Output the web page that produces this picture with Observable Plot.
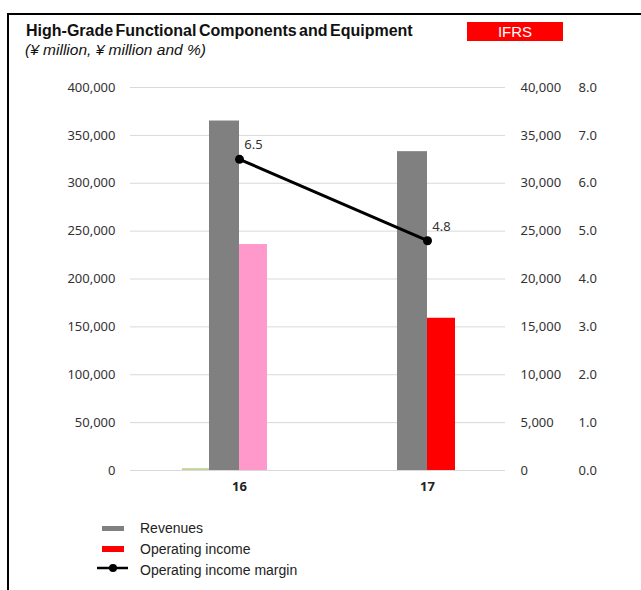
<!DOCTYPE html>
<html>
<head>
<meta charset="utf-8">
<script src="https://cdn.jsdelivr.net/npm/d3@7"></script>
<script src="https://cdn.jsdelivr.net/npm/@observablehq/plot@0.6"></script>
<style>
  html, body { margin: 0; padding: 0; background: #fff; }
  #wrap { position: relative; width: 641px; height: 590px; overflow: hidden; font-family: "Liberation Sans", Arial, sans-serif; }
  #frame { position: absolute; left: 7px; top: 13px; width: 700px; height: 700px; border-top: 2.5px solid #000; border-left: 2.5px solid #000; }
  #title { position: absolute; left: 26px; top: 22px; font-size: 16px; line-height: 18px; font-weight: bold; word-spacing: -2px; color: #111; white-space: nowrap; }
  #subtitle { position: absolute; left: 25px; top: 41px; font-size: 15.5px; line-height: 17px; font-style: italic; color: #111; white-space: nowrap; }
  #ifrs { position: absolute; left: 467px; top: 22px; width: 96px; height: 19px; background: #ff0000; color: #fff; font-size: 15px; line-height: 19px; text-align: center; }
  .layer { position: absolute; left: 0; top: 0; }
  .leg { position: absolute; left: 140px; font-size: 14px; line-height: 16px; color: #222; white-space: nowrap; }
  .sw { position: absolute; left: 102px; width: 22px; }
</style>
</head>
<body>
<div id="wrap">
  <div id="frame"></div>
  <div id="title">High-Grade Functional Components and Equipment</div>
  <div id="subtitle">(¥ million, ¥ million and %)</div>
  <div id="ifrs">IFRS</div>
  <div id="chart"></div>
  <div class="sw" style="top:526px;height:5px;background:#808080"></div>
  <div class="leg" style="top:520px">Revenues</div>
  <div class="sw" style="top:546px;height:6px;background:#ff0000"></div>
  <div class="leg" style="top:541px">Operating income</div>
  <svg style="position:absolute;left:96px;top:563px" width="34" height="10">
    <line x1="1" y1="5" x2="32" y2="5" stroke="#000" stroke-width="2.5"></line>
    <circle cx="17" cy="5" r="4" fill="#000"></circle>
  </svg>
  <div class="leg" style="top:562px">Operating income margin</div>
</div>
<script>
const categories = ["16", "17"];
const revenues = [365000, 333000];
const operatingIncome = [23600, 15900];
const operatingMargin = [6.5, 4.8];
const otherSeries = [2000, 0];
const leftTicks = [0, 50000, 100000, 150000, 200000, 250000, 300000, 350000, 400000];
const rightTicks = [0, 5000, 10000, 15000, 20000, 25000, 30000, 35000, 40000];
const marginTicks = [0, 1, 2, 3, 4, 5, 6, 7, 8];

// style (not data)
const opColors = {"16": "#ff99cc", "17": "#ff0000"};

const rows = categories.map((c, i) => ({
  cat: c, rev: revenues[i], op: operatingIncome[i], m: operatingMargin[i], other: otherSeries[i]
}));

const base = {
  width: 641, height: 500,
  marginTop: 87, marginBottom: 30, marginLeft: 130, marginRight: 136,
  x: {type: "band", domain: categories, range: [145, 521], padding: 0},
  style: {fontFamily: "Noto Sans", fontSize: "13px", background: "transparent", color: "#333", overflow: "visible"}
};

const p1 = Plot.plot({
  ...base,
  y: {domain: [0, 400000]},
  marks: [
    Plot.ruleY(leftTicks, {stroke: "#d9d9d9", strokeWidth: 1}),
    Plot.barY(rows.filter(d => d.other > 0), {x: "cat", y: "other", fill: "#c3d69b", insetLeft: 37, insetRight: 124}),
    Plot.barY(rows, {x: "cat", y: "rev", fill: "#808080", insetLeft: 64, insetRight: 94}),
    Plot.axisY({ticks: leftTicks, tickFormat: d3.format(","), tickSize: 0, tickPadding: 15, anchor: "left", label: null}),
    Plot.axisX({tickSize: 0, tickPadding: 11, fontWeight: "bold", label: null, fill: "#222"})
  ]
});

const p2 = Plot.plot({
  ...base,
  y: {domain: [0, 40000]},
  marks: [
    Plot.barY(rows, {x: "cat", y: "op", fill: d => opColors[d.cat], insetLeft: 94, insetRight: 66}),
    Plot.axisY({ticks: rightTicks, tickFormat: d3.format(","), tickSize: 0, tickPadding: 15, anchor: "right", label: null}),
    Plot.axisX({ticks: [], label: null})
  ]
});

const p3 = Plot.plot({
  ...base,
  y: {domain: [0, 8]},
  marks: [
    Plot.lineY(rows, {x: "cat", y: "m", stroke: "#000", strokeWidth: 3}),
    Plot.dot(rows, {x: "cat", y: "m", r: 4.5, fill: "#000"}),
    Plot.text(rows, {x: "cat", y: "m", text: d => d.m.toFixed(1), dx: 14, dy: -14, fill: "#333", fontSize: 13}),
    Plot.axisY({ticks: marginTicks, tickFormat: d3.format(".1f"), tickSize: 0, tickPadding: 73, anchor: "right", label: null}),
    Plot.axisX({ticks: [], label: null})
  ]
});

const chart = document.getElementById("chart");
[p1, p2, p3].forEach(p => { p.classList.add("layer"); chart.appendChild(p); });
</script>
</body>
</html>
